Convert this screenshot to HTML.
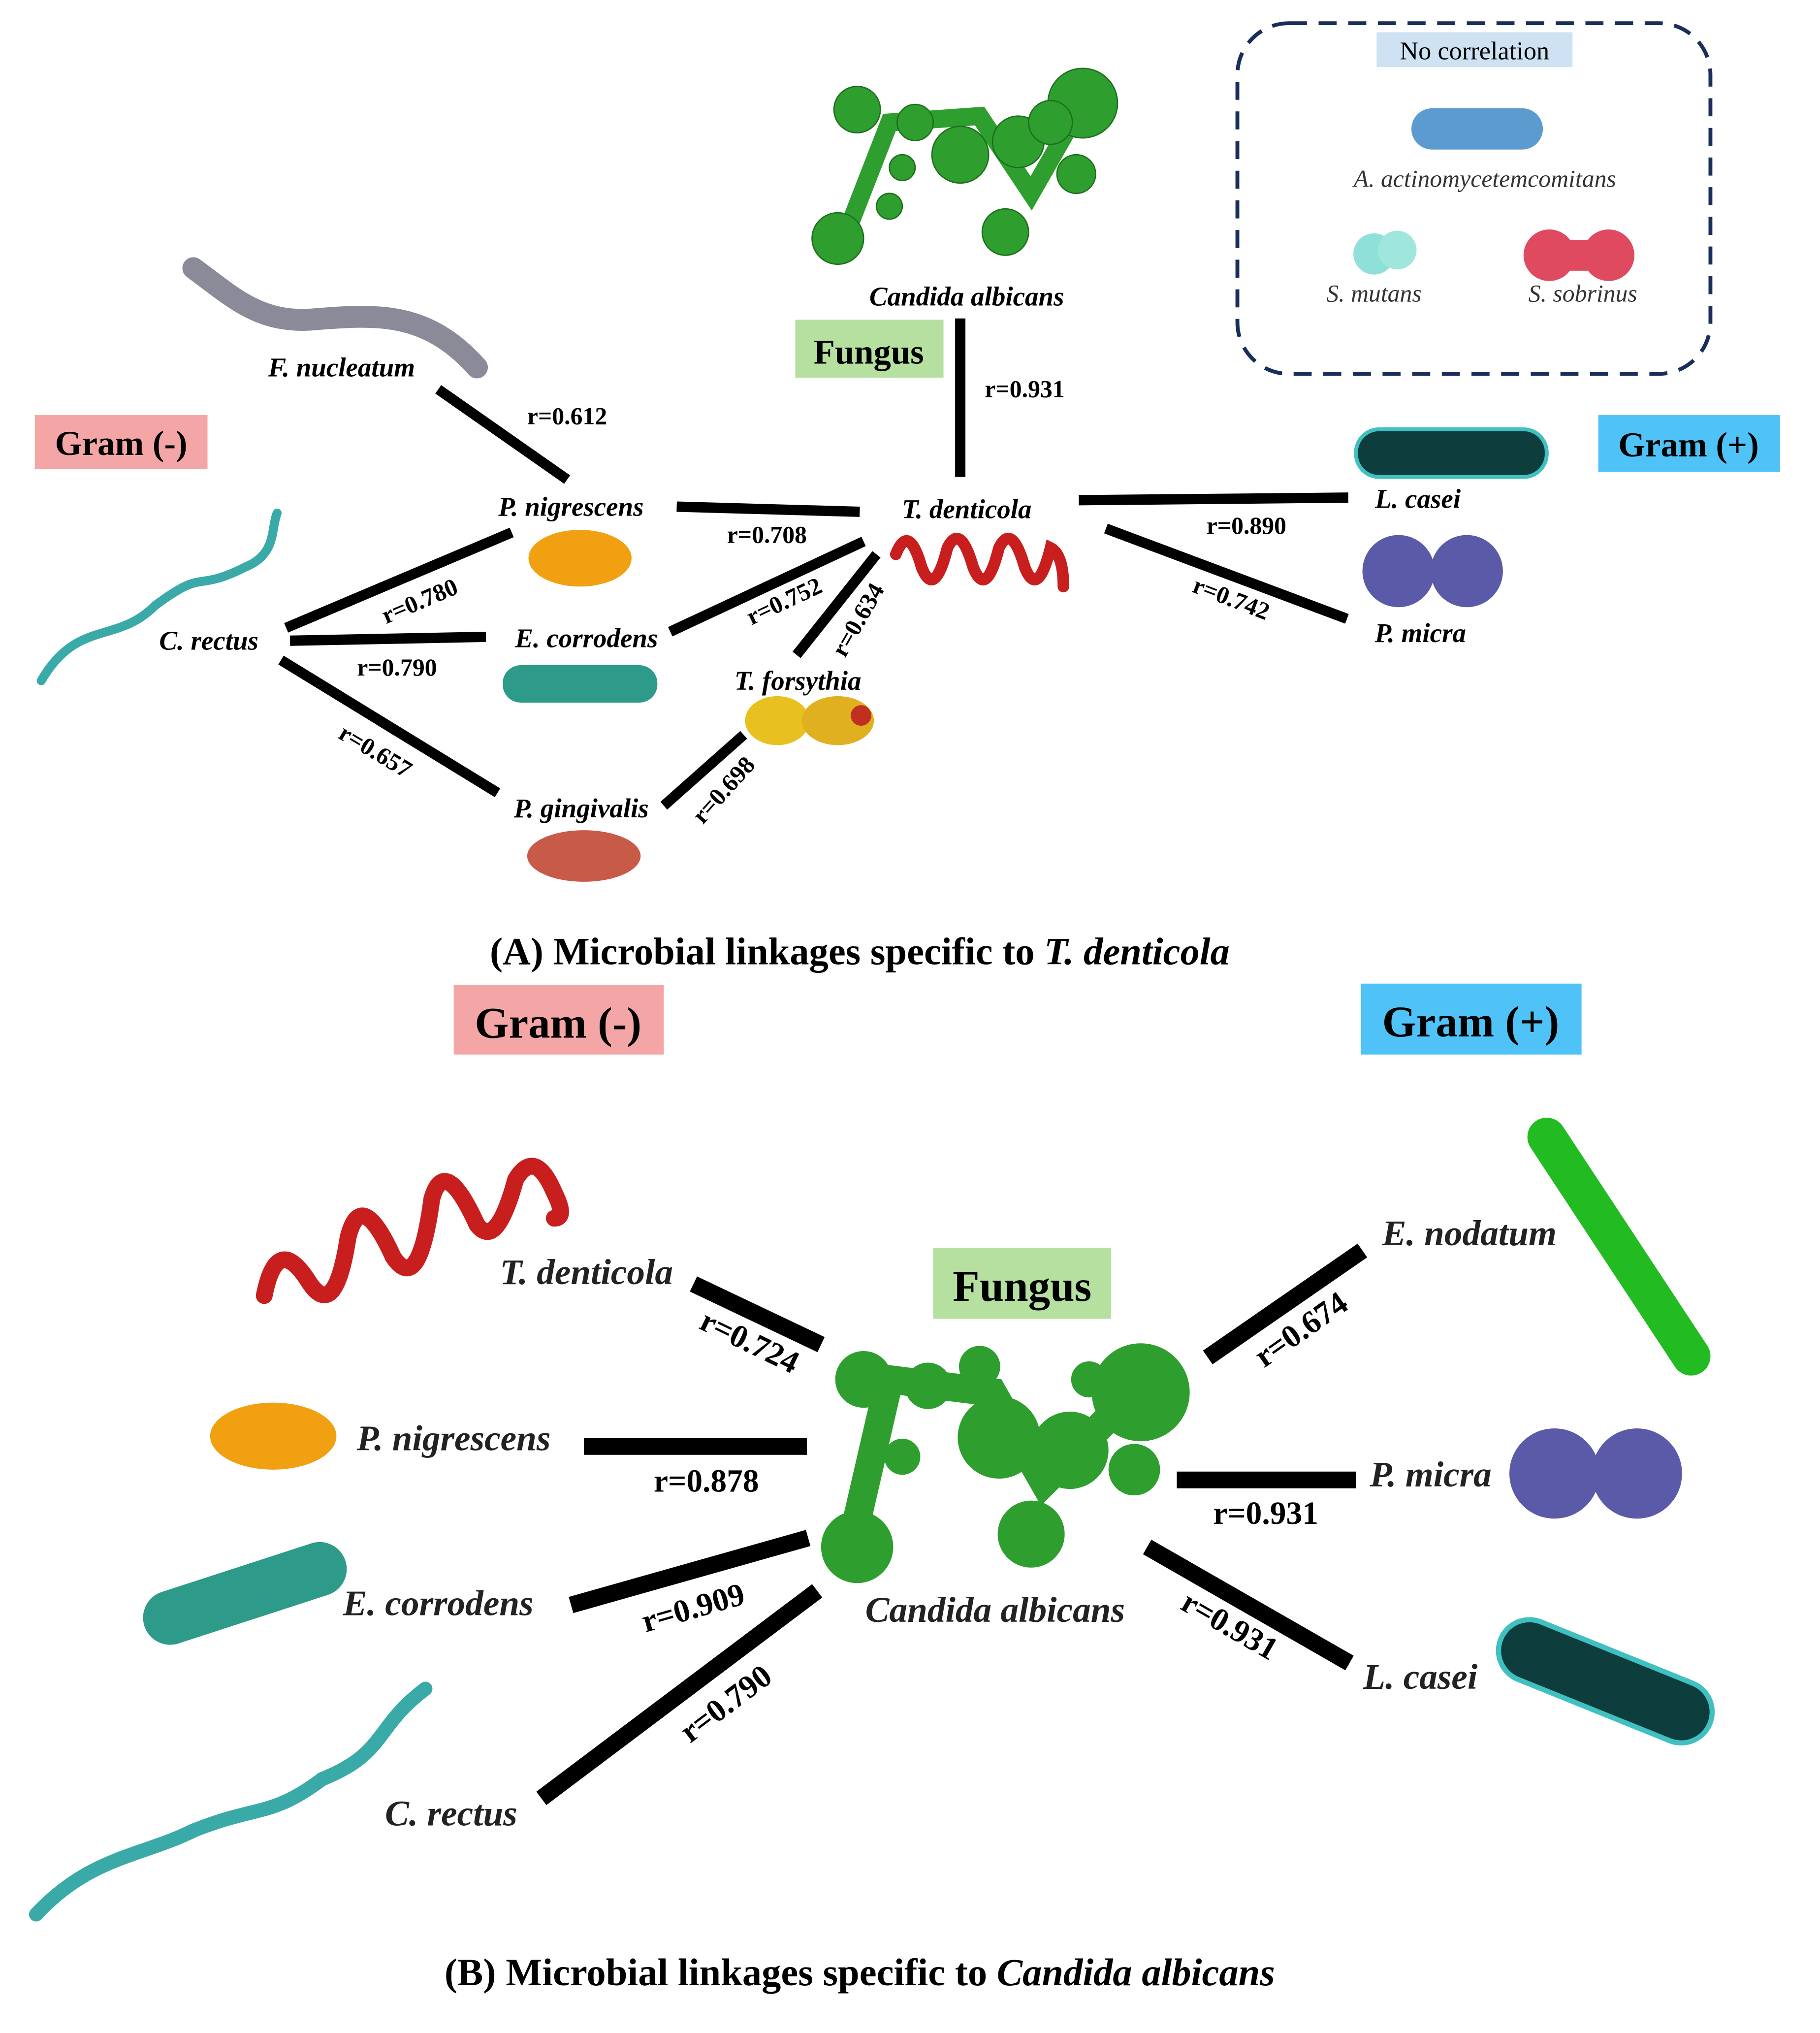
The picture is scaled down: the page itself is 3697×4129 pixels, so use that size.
<!DOCTYPE html>
<html><head><meta charset="utf-8"><style>
html,body{margin:0;padding:0;background:#fff}
svg{display:block}
text{font-family:"Liberation Serif",serif}
.lb{font-style:italic;font-weight:bold;font-size:21px}
.lg{font-style:italic;font-size:19px;fill:#333}
.r{font-weight:bold;font-size:19px}
.lb2{font-style:italic;font-weight:bold;font-size:28px;fill:#222}
.r2{font-weight:bold;font-size:25px}
.box{font-weight:bold;font-size:27px}
.box2{font-weight:bold;font-size:34px}
</style></head><body>
<svg width="3697" height="4129" viewBox="0 0 1412 1577" xmlns="http://www.w3.org/2000/svg">
<rect width="1412" height="1577" fill="#fff"/>

<!-- Legend -->
<rect x="960" y="18" width="367" height="272" rx="40" fill="none" stroke="#1a2e5a" stroke-width="3" stroke-dasharray="14 9"/>
<rect x="1068" y="25" width="152" height="27" fill="#cfe2f3"/>
<text x="1144" y="46" text-anchor="middle" style="font-size:20px">No correlation</text>
<rect x="1095" y="84" width="102" height="32" rx="16" fill="#5b9bd0"/>
<text x="1152" y="145" text-anchor="middle" class="lg">A. actinomycetemcomitans</text>
<circle cx="1066" cy="197" r="16" fill="#8fe0d8"/><circle cx="1084" cy="194" r="15" fill="#9fe6dc"/>
<text x="1066" y="234" text-anchor="middle" class="lg">S. mutans</text>
<circle cx="1202" cy="198" r="20" fill="#e04a60"/><circle cx="1248" cy="198" r="20" fill="#e04a60"/><rect x="1202" y="186" width="46" height="24" fill="#e04a60"/>
<text x="1228" y="234" text-anchor="middle" class="lg">S. sobrinus</text>

<!-- Candida top -->
<g fill="#2e9e2e" stroke="#1d6e1d" stroke-width="1">
<path d="M655 185 L690 95 L760 90 L800 150 L840 80 L860 90" fill="none" stroke="#2e9e2e" stroke-width="14"/>
<circle cx="650" cy="185" r="20"/><circle cx="665" cy="85" r="18"/><circle cx="710" cy="95" r="14"/>
<circle cx="745" cy="120" r="22"/><circle cx="790" cy="110" r="20"/><circle cx="780" cy="180" r="18"/>
<circle cx="840" cy="80" r="27"/><circle cx="835" cy="135" r="15"/><circle cx="815" cy="95" r="17"/>
<circle cx="700" cy="130" r="10"/><circle cx="690" cy="160" r="10"/>
</g>
<text x="750" y="237" text-anchor="middle" class="lb">Candida albicans</text>
<rect x="617" y="248" width="115" height="45" fill="#b6e0a0"/>
<text x="674" y="282" text-anchor="middle" class="box">Fungus</text>

<!-- Gram boxes A -->
<rect x="27" y="322" width="134" height="42" fill="#f4a6a6"/>
<text x="94" y="353" text-anchor="middle" class="box">Gram (-)</text>
<rect x="1240" y="322" width="141" height="44" fill="#4fc3f7"/>
<text x="1310" y="354" text-anchor="middle" class="box">Gram (+)</text>

<!-- F nucleatum -->
<path d="M150 208 C180 230 200 250 240 248 C290 244 330 240 370 285" fill="none" stroke="#8a8a99" stroke-width="17" stroke-linecap="round"/>
<text x="265" y="292" text-anchor="middle" class="lb">F. nucleatum</text>

<!-- Lines A -->
<g stroke="#000" stroke-width="8">
<line x1="745" y1="247" x2="745" y2="370"/>
<line x1="340" y1="302" x2="440" y2="372"/>
<line x1="525" y1="393" x2="667" y2="397"/>
<line x1="837" y1="388" x2="1046" y2="386"/>
<line x1="858" y1="410" x2="1045" y2="480"/>
<line x1="222" y1="487" x2="397" y2="413"/>
<line x1="225" y1="497" x2="377" y2="494"/>
<line x1="218" y1="512" x2="386" y2="615"/>
<line x1="520" y1="490" x2="670" y2="420"/>
<line x1="618" y1="508" x2="680" y2="430"/>
<line x1="515" y1="625" x2="577" y2="570"/>
</g>
<text x="795" y="308" text-anchor="middle" class="r">r=0.931</text>
<text x="440" y="329" text-anchor="middle" class="r">r=0.612</text>
<text x="595" y="421" text-anchor="middle" class="r">r=0.708</text>
<text x="967" y="414" text-anchor="middle" class="r">r=0.890</text>
<text x="308" y="524" text-anchor="middle" class="r">r=0.790</text>
<text transform="translate(953,470) rotate(21)" text-anchor="middle" class="r">r=0.742</text>
<text transform="translate(328,472) rotate(-23)" text-anchor="middle" class="r">r=0.780</text>
<text transform="translate(288,588) rotate(31)" text-anchor="middle" class="r">r=0.657</text>
<text transform="translate(611,472) rotate(-25)" text-anchor="middle" class="r">r=0.752</text>
<text transform="translate(671,484) rotate(-60)" text-anchor="middle" class="r">r=0.634</text>
<text transform="translate(566,617) rotate(-48)" text-anchor="middle" class="r">r=0.698</text>

<!-- nodes A -->
<text x="443" y="400" text-anchor="middle" class="lb">P. nigrescens</text>
<ellipse cx="450" cy="433" rx="40" ry="22" fill="#f0a010"/>
<text x="750" y="402" text-anchor="middle" class="lb">T. denticola</text>
<path d="M695 430 Q705 405 715 440 Q725 465 735 425 Q745 405 755 440 Q765 465 775 425 Q785 405 795 440 Q805 465 815 425 Q825 430 825 455" fill="none" stroke="#c81e1e" stroke-width="9" stroke-linecap="round"/>
<rect x="1052" y="333" width="148" height="37" rx="18" fill="#0e3d3d" stroke="#40c0c0" stroke-width="3"/>
<text x="1100" y="394" text-anchor="middle" class="lb">L. casei</text>
<circle cx="1085" cy="443" r="28" fill="#5a5aa8"/><circle cx="1138" cy="443" r="28" fill="#5a5aa8"/>
<text x="1102" y="498" text-anchor="middle" class="lb">P. micra</text>
<path d="M32 528 C60 480 90 500 120 470 C160 440 150 460 190 440 C215 430 210 410 215 398" fill="none" stroke="#3aaaa8" stroke-width="7" stroke-linecap="round"/>
<text x="162" y="504" text-anchor="middle" class="lb">C. rectus</text>
<text x="455" y="502" text-anchor="middle" class="lb">E. corrodens</text>
<rect x="390" y="516" width="120" height="29" rx="14" fill="#2e9a8a"/>
<text x="619" y="535" text-anchor="middle" class="lb">T. forsythia</text>
<ellipse cx="603" cy="559" rx="25" ry="19" fill="#e8c020"/><ellipse cx="650" cy="559" rx="28" ry="19" fill="#e0b020"/><circle cx="668" cy="555" r="8" fill="#c03020"/>
<text x="451" y="634" text-anchor="middle" class="lb">P. gingivalis</text>
<ellipse cx="453" cy="664" rx="44" ry="20" fill="#c85a48"/>

<text x="667" y="748" text-anchor="middle" style="font-size:30px;font-weight:bold">(A) Microbial linkages specific to <tspan font-style="italic">T. denticola</tspan></text>

<!-- Panel B -->
<rect x="352" y="764" width="163" height="54" fill="#f4a6a6"/>
<text x="433" y="805" text-anchor="middle" class="box2">Gram (-)</text>
<rect x="1056" y="763" width="171" height="55" fill="#4fc3f7"/>
<text x="1141" y="804" text-anchor="middle" class="box2">Gram (+)</text>
<rect x="724" y="968" width="138" height="55" fill="#b6e0a0"/>
<text x="793" y="1009" text-anchor="middle" class="box2">Fungus</text>

<g fill="#2e9e2e">
<path d="M660 1200 L690 1070 L770 1080 L810 1150 L880 1080" fill="none" stroke="#2e9e2e" stroke-width="22"/>
<circle cx="665" cy="1200" r="28"/><circle cx="670" cy="1070" r="22"/><circle cx="720" cy="1075" r="18"/>
<circle cx="775" cy="1115" r="32"/><circle cx="830" cy="1125" r="30"/><circle cx="800" cy="1190" r="26"/>
<circle cx="885" cy="1080" r="38"/><circle cx="880" cy="1140" r="20"/><circle cx="760" cy="1060" r="16"/>
<circle cx="700" cy="1130" r="14"/><circle cx="845" cy="1070" r="14"/>
</g>
<text x="772" y="1258" text-anchor="middle" class="lb2">Candida albicans</text>

<g stroke="#000" stroke-width="13">
<line x1="538" y1="996" x2="637" y2="1043"/>
<line x1="453" y1="1122" x2="626" y2="1122"/>
<line x1="443" y1="1245" x2="627" y2="1193"/>
<line x1="420" y1="1395" x2="634" y2="1234"/>
<line x1="937" y1="1053" x2="1057" y2="970"/>
<line x1="913" y1="1148" x2="1052" y2="1148"/>
<line x1="890" y1="1200" x2="1047" y2="1290"/>
</g>
<text transform="translate(578,1048) rotate(26)" text-anchor="middle" class="r2">r=0.724</text>
<text x="548" y="1157" text-anchor="middle" class="r2">r=0.878</text>
<text transform="translate(540,1255) rotate(-16)" text-anchor="middle" class="r2">r=0.909</text>
<text transform="translate(568,1328) rotate(-37)" text-anchor="middle" class="r2">r=0.790</text>
<text transform="translate(1014,1038) rotate(-35)" text-anchor="middle" class="r2">r=0.674</text>
<text x="982" y="1182" text-anchor="middle" class="r2">r=0.931</text>
<text transform="translate(950,1268) rotate(30)" text-anchor="middle" class="r2">r=0.931</text>

<path d="M205 1005 Q215 955 240 995 Q260 1025 270 960 Q280 920 305 975 Q325 1005 335 930 Q345 895 370 950 Q385 970 400 915 Q415 890 430 925 Q440 945 430 945" fill="none" stroke="#c81e1e" stroke-width="13" stroke-linecap="round"/>
<text x="455" y="996" text-anchor="middle" class="lb2">T. denticola</text>
<ellipse cx="212" cy="1114" rx="49" ry="26" fill="#f0a010"/>
<text x="352" y="1125" text-anchor="middle" class="lb2">P. nigrescens</text>
<rect x="108" y="1215" width="164" height="42" rx="21" transform="rotate(-18 190 1236)" fill="#2e9a8a"/>
<text x="340" y="1253" text-anchor="middle" class="lb2">E. corrodens</text>
<path d="M28 1485 C70 1440 110 1440 150 1420 C200 1400 210 1410 250 1380 C300 1360 290 1340 330 1310" fill="none" stroke="#3aaaa8" stroke-width="11" stroke-linecap="round"/>
<text x="350" y="1416" text-anchor="middle" class="lb2">C. rectus</text>

<line x1="1200" y1="882" x2="1312" y2="1052" stroke="#22bb22" stroke-width="30" stroke-linecap="round"/>
<text x="1140" y="966" text-anchor="middle" class="lb2">E. nodatum</text>
<circle cx="1206" cy="1143" r="35" fill="#5a5aa8"/><circle cx="1270" cy="1143" r="35" fill="#5a5aa8"/>
<text x="1110" y="1153" text-anchor="middle" class="lb2">P. micra</text>
<rect x="1158" y="1280" width="175" height="48" rx="24" transform="rotate(22 1245 1304)" fill="#0e3d3d" stroke="#40c0c0" stroke-width="4"/>
<text x="1102" y="1310" text-anchor="middle" class="lb2">L. casei</text>

<text x="667" y="1540" text-anchor="middle" style="font-size:30px;font-weight:bold">(B) Microbial linkages specific to <tspan font-style="italic">Candida albicans</tspan></text>
</svg>
</body></html>
